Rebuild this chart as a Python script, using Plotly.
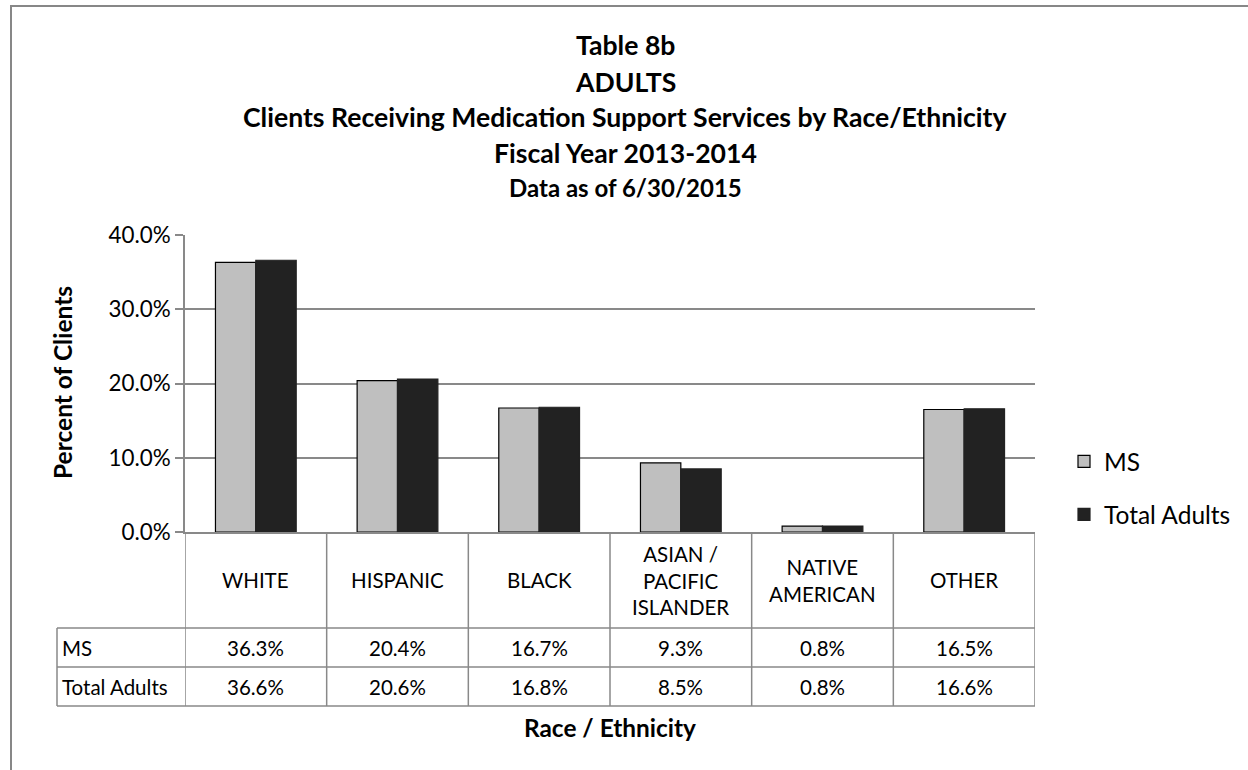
import plotly.graph_objects as go

# ---------------- data ----------------
categories = ["WHITE", "HISPANIC", "BLACK", "ASIAN / PACIFIC ISLANDER", "NATIVE AMERICAN", "OTHER"]
header_labels = ["WHITE", "HISPANIC", "BLACK", "ASIAN /<br>PACIFIC<br>ISLANDER", "NATIVE<br>AMERICAN", "OTHER"]
ms_values = [36.3, 20.4, 16.7, 9.3, 0.8, 16.5]
total_adults_values = [36.6, 20.6, 16.8, 8.5, 0.8, 16.6]
series_names = ["MS", "Total Adults"]
y_ticks = [0, 10, 20, 30, 40]
title_lines = ["Table 8b", "ADULTS",
               "Clients Receiving Medication Support Services by Race/Ethnicity",
               "Fiscal Year 2013-2014"]
subtitle = "Data as of 6/30/2015"
x_title = "Race / Ethnicity"
y_title = "Percent of Clients"

# ---------------- layout geometry ----------------
W, H = 1248, 770
L, R, T, B = 185, 1035, 235, 532  # plot area in screen pixels
FONT = "Lato"
GRID = "#898989"


def px(xp):
    return (xp - L) / (R - L)


def py(yp):
    return (B - yp) / (B - T)


fig = go.Figure()
fig.add_trace(go.Bar(
    x=categories, y=[v / 100 for v in ms_values], name=series_names[0],
    marker=dict(color="#BFBFBF", line=dict(color="#000000", width=1.2)),
    legendgroup="a"))
fig.add_trace(go.Bar(
    x=categories, y=[v / 100 for v in total_adults_values], name=series_names[1],
    marker=dict(color="#222222", line=dict(color="#222222", width=1.2)),
    legendgroup="b"))

shapes = []
annotations = []

# chart border
shapes.append(dict(type="rect", xref="paper", yref="paper",
                   x0=px(11), x1=px(1262), y0=py(6), y1=py(785),
                   line=dict(color="#878787", width=2), fillcolor="rgba(0,0,0,0)", layer="below"))

# table geometry
row_tops = [B, 628, 667, 706]
n = len(categories)
for i in range(n + 1):
    shapes.append(dict(type="line", xref="x", yref="paper",
                       x0=i - 0.5, x1=i - 0.5, y0=py(B), y1=py(row_tops[3]),
                       line=dict(color=GRID, width=1.5)))
shapes.append(dict(type="line", xref="paper", yref="paper",
                   x0=px(57), x1=px(57), y0=py(row_tops[1]), y1=py(row_tops[3]),
                   line=dict(color=GRID, width=1.5)))
for yy in row_tops[1:]:
    shapes.append(dict(type="line", xref="paper", yref="paper",
                       x0=px(57), x1=1, y0=py(yy), y1=py(yy),
                       line=dict(color=GRID, width=1.5)))

TBL = 20.5
for c, lab in zip(categories, header_labels):
    annotations.append(dict(x=c, xref="x", y=py((row_tops[0] + row_tops[1]) / 2), yref="paper",
                            text=lab, showarrow=False, font=dict(family=FONT, size=TBL, color="#000"),
                            xanchor="center", yanchor="middle"))
for r, (name, vals) in enumerate(zip(series_names, [ms_values, total_adults_values])):
    ymid = py((row_tops[r + 1] + row_tops[r + 2]) / 2)
    annotations.append(dict(x=px(60), xref="paper", y=ymid, yref="paper", text=name,
                            showarrow=False, xanchor="left", yanchor="middle",
                            font=dict(family=FONT, size=TBL, color="#000")))
    for c, v in zip(categories, vals):
        annotations.append(dict(x=c, xref="x", y=ymid, yref="paper", text=f"{v:.1f}%",
                                showarrow=False, xanchor="center", yanchor="middle",
                                font=dict(family=FONT, size=TBL, color="#000")))

# titles
title_y = [45, 82, 117, 153]
for t, yy in zip(title_lines, title_y):
    annotations.append(dict(x=px(625), xref="paper", y=py(yy), yref="paper", text=f"<b>{t}</b>",
                            showarrow=False, xanchor="center", yanchor="middle",
                            font=dict(family=FONT, size=26.6, color="#000")))
annotations.append(dict(x=px(625), xref="paper", y=py(187), yref="paper", text=f"<b>{subtitle}</b>",
                        showarrow=False, xanchor="center", yanchor="middle",
                        font=dict(family=FONT, size=24, color="#000")))
annotations.append(dict(x=px(610), xref="paper", y=py(727), yref="paper", text=f"<b>{x_title}</b>",
                        showarrow=False, xanchor="center", yanchor="middle",
                        font=dict(family=FONT, size=24.4, color="#000")))
annotations.append(dict(x=px(62), xref="paper", y=py(383), yref="paper", text=f"<b>{y_title}</b>",
                        showarrow=False, xanchor="center", yanchor="middle", textangle=-90,
                        font=dict(family=FONT, size=24.5, color="#000")))

fig.update_layout(
    width=W, height=H, autosize=False,
    margin=dict(l=L, r=W - R, t=T, b=H - B, pad=0),
    paper_bgcolor="white", plot_bgcolor="white",
    barmode="group", bargap=0.43, bargroupgap=0,
    font=dict(family=FONT, size=20, color="#000"),
    showlegend=True,
    legend=dict(x=px(1064), y=py(439), xanchor="left", yanchor="top",
                traceorder="grouped", tracegroupgap=18,
                font=dict(family=FONT, size=24.5, color="#000"),
                itemwidth=30, bgcolor="rgba(0,0,0,0)"),
    shapes=shapes, annotations=annotations,
)
fig.update_xaxes(range=[-0.5, n - 0.5], showticklabels=False, showgrid=False,
                 showline=True, linecolor=GRID, linewidth=1.5, ticks="", zeroline=False)
fig.update_yaxes(range=[0, 0.4], tickvals=[v / 100 for v in y_ticks], tickformat=".1%",
                 showgrid=True, gridcolor=GRID, gridwidth=1.5,
                 showline=True, linecolor=GRID, linewidth=1.5,
                 ticks="outside", ticklen=8, tickcolor=GRID, tickwidth=1.5,
                 zeroline=False, tickfont=dict(family=FONT, size=22.4, color="#000"))

fig.write_html("out.html", config={"displayModeBar": False},
               post_script="document.body.style.margin='0';document.body.style.overflow='hidden';")
